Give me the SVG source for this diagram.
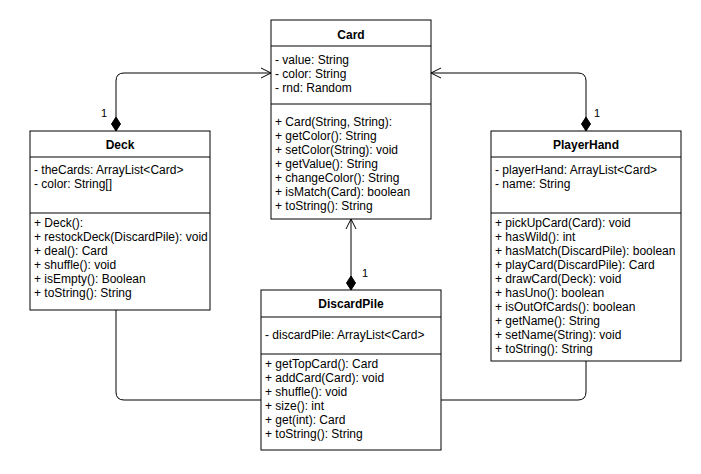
<svg xmlns="http://www.w3.org/2000/svg" width="701" height="474" viewBox="0 0 701 474">
<style>
.box{fill:#fff;stroke:#000;stroke-width:1}
.sep{stroke:#000;stroke-width:1}
.t{font-family:"Liberation Sans",Arial,Helvetica,sans-serif;font-size:12px;fill:#000}
.h{font-family:"Liberation Sans",Arial,Helvetica,sans-serif;font-size:12px;font-weight:bold;fill:#000;text-anchor:middle}
.edge{fill:none;stroke:#000;stroke-width:1}
.lbl{font-family:"Liberation Sans",Arial,Helvetica,sans-serif;font-size:11px;fill:#000}
</style>
<defs>
<marker id="open" markerUnits="userSpaceOnUse" markerWidth="12" markerHeight="12" refX="10" refY="5" orient="auto" overflow="visible">
<path d="M0,0 L10,5 L0,10" fill="none" stroke="#000" stroke-width="1"/>
</marker>
<marker id="dia" markerUnits="userSpaceOnUse" markerWidth="16" markerHeight="12" refX="0" refY="5" orient="auto" overflow="visible">
<path d="M0,5 L7,0.5 L14,5 L7,9.5 Z" fill="#000" stroke="#000" stroke-width="1"/>
</marker>
</defs>
<rect width="701" height="474" fill="#fff"/>
<g id="connectors">
<path class="edge" d="M116,131 L116,81 Q116,73 124,73 L271,73" marker-start="url(#dia)" marker-end="url(#open)"/>
<path class="edge" d="M586,131 L586,81 Q586,73 578,73 L431,73" marker-start="url(#dia)" marker-end="url(#open)"/>
<path class="edge" d="M351,290 L351,219" marker-start="url(#dia)" marker-end="url(#open)"/>
<path class="edge" d="M116,310 L116,392 Q116,400 124,400 L261,400"/>
<path class="edge" d="M586,361 L586,392 Q586,400 578,400 L441,400"/>
<text class="lbl" x="101" y="117">1</text>
<text class="lbl" x="594" y="117">1</text>
<text class="lbl" x="362" y="277">1</text>
</g>
<g id="card">
<rect class="box" x="271" y="20" width="160" height="199"/>
<line class="sep" x1="271" y1="46" x2="431" y2="46"/>
<line class="sep" x1="271" y1="104" x2="431" y2="104"/>
<text class="h" x="351" y="39">Card</text>
<text class="t" x="275" y="64">- value: String</text>
<text class="t" x="275" y="78">- color: String</text>
<text class="t" x="275" y="92">- rnd: Random</text>
<text class="t" x="275" y="126">+ Card(String, String):</text>
<text class="t" x="275" y="140">+ getColor(): String</text>
<text class="t" x="275" y="154">+ setColor(String): void</text>
<text class="t" x="275" y="168">+ getValue(): String</text>
<text class="t" x="275" y="182">+ changeColor(): String</text>
<text class="t" x="275" y="196">+ isMatch(Card): boolean</text>
<text class="t" x="275" y="210">+ toString(): String</text>
</g>
<g id="deck">
<rect class="box" x="30" y="131" width="180" height="179"/>
<line class="sep" x1="30" y1="157" x2="210" y2="157"/>
<line class="sep" x1="30" y1="213" x2="210" y2="213"/>
<text class="h" x="120" y="149">Deck</text>
<text class="t" x="34" y="174">- theCards: ArrayList&lt;Card&gt;</text>
<text class="t" x="34" y="188">- color: String[]</text>
<text class="t" x="34" y="227">+ Deck():</text>
<text class="t" x="34" y="241">+ restockDeck(DiscardPile): void</text>
<text class="t" x="34" y="255">+ deal(): Card</text>
<text class="t" x="34" y="269">+ shuffle(): void</text>
<text class="t" x="34" y="283">+ isEmpty(): Boolean</text>
<text class="t" x="34" y="297">+ toString(): String</text>
</g>
<g id="playerhand">
<rect class="box" x="491" y="131" width="190" height="230"/>
<line class="sep" x1="491" y1="157" x2="681" y2="157"/>
<line class="sep" x1="491" y1="213" x2="681" y2="213"/>
<text class="h" x="586" y="149">PlayerHand</text>
<text class="t" x="495" y="174">- playerHand: ArrayList&lt;Card&gt;</text>
<text class="t" x="495" y="188">- name: String</text>
<text class="t" x="495" y="227">+ pickUpCard(Card): void</text>
<text class="t" x="495" y="241">+ hasWild(): int</text>
<text class="t" x="495" y="255">+ hasMatch(DiscardPile): boolean</text>
<text class="t" x="495" y="269">+ playCard(DiscardPile): Card</text>
<text class="t" x="495" y="283">+ drawCard(Deck): void</text>
<text class="t" x="495" y="297">+ hasUno(): boolean</text>
<text class="t" x="495" y="311">+ isOutOfCards(): boolean</text>
<text class="t" x="495" y="325">+ getName(): String</text>
<text class="t" x="495" y="339">+ setName(String): void</text>
<text class="t" x="495" y="353">+ toString(): String</text>
</g>
<g id="discardpile">
<rect class="box" x="261" y="290" width="180" height="160"/>
<line class="sep" x1="261" y1="317" x2="441" y2="317"/>
<line class="sep" x1="261" y1="354" x2="441" y2="354"/>
<text class="h" x="351" y="308">DiscardPile</text>
<text class="t" x="265" y="339">- discardPile: ArrayList&lt;Card&gt;</text>
<text class="t" x="265" y="368">+ getTopCard(): Card</text>
<text class="t" x="265" y="382">+ addCard(Card): void</text>
<text class="t" x="265" y="396">+ shuffle(): void</text>
<text class="t" x="265" y="410">+ size(): int</text>
<text class="t" x="265" y="424">+ get(int): Card</text>
<text class="t" x="265" y="438">+ toString(): String</text>
</g>
</svg>
